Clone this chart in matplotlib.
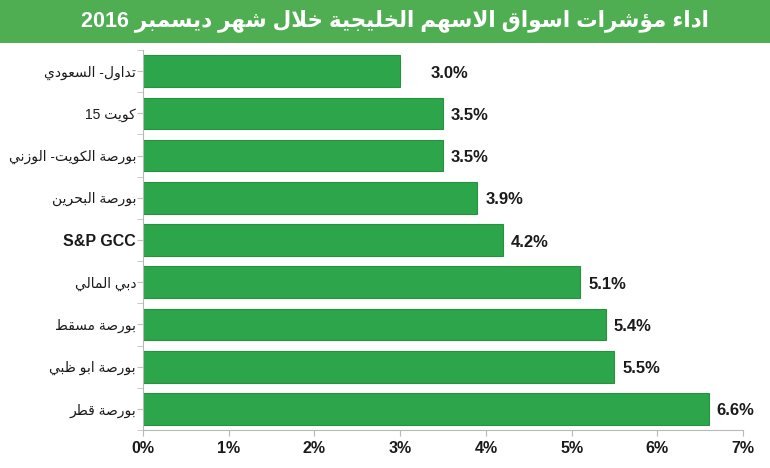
import re
import numpy as np
import matplotlib
matplotlib.use('Agg')
import matplotlib.pyplot as plt
from matplotlib.patches import Rectangle

# data (top to bottom as in the chart)
labels = ['تداول- السعودي', 'كويت 15', 'بورصة الكويت- الوزني', 'بورصة البحرين',
          'S&P GCC', 'دبي المالي', 'بورصة مسقط', 'بورصة ابو ظبي', 'بورصة قطر']
values = [3.0, 3.5, 3.5, 3.9, 4.2, 5.1, 5.4, 5.5, 6.6]
title = 'اداء مؤشرات اسواق الاسهم الخليجية خلال شهر ديسمبر 2016'
x_ticks = [0, 1, 2, 3, 4, 5, 6, 7]

# --- minimal arabic shaping (matplotlib has no bidi / joining) ---
AR = 'ءآأؤإئابةتثجحخدذرزسشصضطظعغفقكلمنهوىي'
NFORMS = [1, 2, 2, 2, 2, 4, 2, 4, 2, 4, 4, 4, 4, 4, 2, 2, 2, 2, 4, 4,
          4, 4, 4, 4, 4, 4, 4, 4, 4, 4, 4, 4, 4, 2, 2, 4]
FORMS = {}
_b = 0xFE80
for ch, n in zip(AR, NFORMS):
    FORMS[ch] = (_b, n)
    _b += n
LAM_ALEF = {'آ': 0xFEF5, 'أ': 0xFEF7, 'إ': 0xFEF9, 'ا': 0xFEFB}


def is_arabic(text):
    return any(c in FORMS for c in text)


def shape(text):
    if not is_arabic(text):
        return text
    out = []
    i = 0
    while i < len(text):
        c = text[i]
        if c not in FORMS:
            out.append(c)
            i += 1
            continue
        prev = text[i - 1] if i > 0 else ''
        nxt = text[i + 1] if i + 1 < len(text) else ''
        base, n = FORMS[c]
        jp = n > 1 and prev in FORMS and FORMS[prev][1] == 4
        if c == 'ل' and nxt in LAM_ALEF:
            out.append(chr(LAM_ALEF[nxt] + int(jp)))
            i += 2
            continue
        jn = n == 4 and nxt in FORMS and FORMS[nxt][1] > 1
        if jp and jn:
            k = 3
        elif jp:
            k = 1
        elif jn:
            k = 2
        else:
            k = 0
        out.append(chr(base + k))
        i += 1
    s = ''.join(out)[::-1]
    return re.sub(r'[0-9A-Za-z&%.]+', lambda m: m.group()[::-1], s)


fam = ['Liberation Sans', 'DejaVu Sans']
plt.rcParams['font.family'] = fam

fig = plt.figure(figsize=(7.7, 4.68), dpi=100)

# title bar
fig.patches.append(Rectangle((0, 1 - 43 / 468), 1, 43 / 468, transform=fig.transFigure,
                             facecolor='#4fae52', edgecolor='none', zorder=0))
fig.text(0.513, 1 - 21 / 468, shape(title), color='white', fontsize=15.5,
         fontweight='bold', ha='center', va='center', family=fam)

ax = fig.add_axes([143 / 770, 38 / 468, 600 / 770, (468 - 38 - 50) / 468])

y = np.arange(len(values))
ax.barh(y, values, height=0.75, color='#2da64b', edgecolor='#279140', linewidth=0.8)
ax.set_ylim(len(values) - 0.5, -0.5)
ax.set_xlim(0, 7)

for i, v in enumerate(values):
    pad = 30 if i == 0 else 8
    ax.annotate(f'{v:.1f}%', (v, i), xytext=(pad, -2), textcoords='offset pixels',
                ha='left', va='center', fontsize=12, fontweight='bold', color='#1a1a1a')

ax.set_yticks(y)
ax.set_yticklabels([shape(l) for l in labels], color='#1a1a1a')
for lab, txt in zip(ax.get_yticklabels(), labels):
    if is_arabic(txt):
        lab.set_fontsize(10)
        lab.set_fontweight('normal')
    else:
        lab.set_fontsize(11.5)
        lab.set_fontweight('bold')
ax.set_yticks(np.arange(len(values) + 1) - 0.5, minor=True)
ax.tick_params(axis='y', which='both', length=4, color='#c0c0c0', pad=1)

ax.set_xticks(x_ticks)
ax.set_xticklabels([f'{t}%' for t in x_ticks], fontsize=11.5, fontweight='bold', color='#1a1a1a')
ax.tick_params(axis='x', length=4, color='#b8b8b8', pad=4)

for s in ['top', 'right']:
    ax.spines[s].set_visible(False)
for s in ['left', 'bottom']:
    ax.spines[s].set_color('#b8b8b8')

fig.savefig('out.png', dpi=100)
